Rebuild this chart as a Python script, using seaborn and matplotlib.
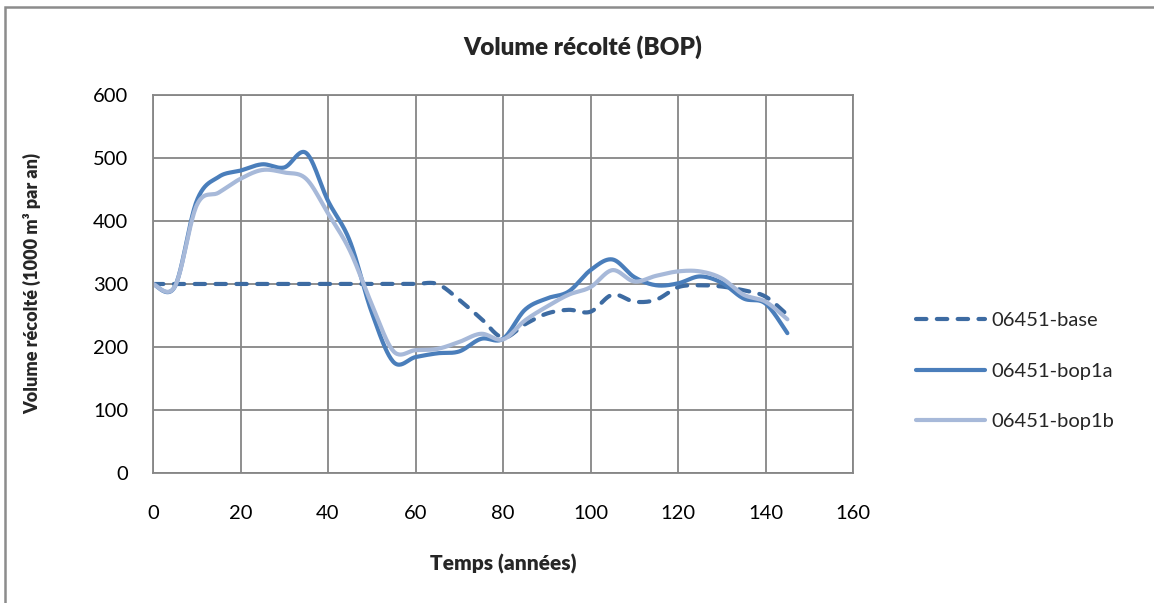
import numpy as np
import pandas as pd
import matplotlib
matplotlib.use("Agg")
import matplotlib.pyplot as plt
import seaborn as sns

# Harvested volume per scenario (1000 m3 per year), every 5 years
years = list(range(0, 150, 5))
base = [300, 300, 300, 300, 300, 300, 300, 300, 300, 300,
        300, 300, 300, 300, 275, 245, 215, 236, 253, 259,
        256, 283, 272, 275, 295, 298, 296, 290, 280, 251]
bop1a = [300, 296, 432, 470, 480, 490, 485, 508, 432, 368,
         255, 176, 184, 190, 193, 213, 213, 259, 277, 288,
         322, 339, 311, 298, 301, 312, 302, 277, 269, 222]
bop1b = [300, 296, 425, 445, 467, 481, 477, 467, 412, 353,
         268, 193, 195, 197, 208, 221, 212, 242, 264, 283,
         295, 322, 304, 313, 320, 320, 309, 283, 272, 244]

series_names = ["06451-base", "06451-bop1a", "06451-bop1b"]
series_values = [base, bop1a, bop1b]
colors = ["#3D6BA2", "#4A7EBB", "#A7B9D9"]

x_ticks = [0, 20, 40, 60, 80, 100, 120, 140, 160]
y_ticks = [0, 100, 200, 300, 400, 500, 600]


def smooth(x, y, n=24):
    """Smoothed line through every point (cubic Bezier, Catmull-Rom tangents)."""
    x = np.asarray(x, float)
    y = np.asarray(y, float)
    px = np.concatenate([[x[0]], x, [x[-1]]])
    py = np.concatenate([[y[0]], y, [y[-1]]])
    xs, ys = [], []
    t = np.linspace(0, 1, n, endpoint=False)
    for i in range(1, len(px) - 2):
        p0x, p1x, p2x, p3x = px[i - 1:i + 3]
        p0y, p1y, p2y, p3y = py[i - 1:i + 3]
        c1x, c1y = p1x + (p2x - p0x) / 6, p1y + (p2y - p0y) / 6
        c2x, c2y = p2x - (p3x - p1x) / 6, p2y - (p3y - p1y) / 6
        bx = (1 - t) ** 3 * p1x + 3 * (1 - t) ** 2 * t * c1x + 3 * (1 - t) * t ** 2 * c2x + t ** 3 * p2x
        by = (1 - t) ** 3 * p1y + 3 * (1 - t) ** 2 * t * c1y + 3 * (1 - t) * t ** 2 * c2y + t ** 3 * p2y
        xs.extend(bx)
        ys.extend(by)
    xs.append(x[-1])
    ys.append(y[-1])
    return np.array(xs), np.array(ys)


frames = []
for name, vals in zip(series_names, series_values):
    sx, sy = smooth(years, vals)
    frames.append(pd.DataFrame({"t": sx, "v": sy, "serie": name}))
df = pd.concat(frames, ignore_index=True)

sns.set_theme(style="white")
plt.rcParams["font.family"] = ["Lato", "DejaVu Sans"]

fig = plt.figure(figsize=(11.54, 6.03), dpi=100)
ax = fig.add_axes([153 / 1154, 1 - 473 / 603, 700 / 1154, 378 / 603])

sns.lineplot(data=df, x="t", y="v", hue="serie", style="serie",
             hue_order=series_names, style_order=series_names,
             palette=colors, dashes={series_names[0]: (2.5, 2.5),
                                     series_names[1]: "",
                                     series_names[2]: ""},
             sort=False, estimator=None, linewidth=3.0, ax=ax, legend=False)

for line, name in zip(ax.get_lines(), series_names):
    line.set_solid_capstyle("round")
    line.set_dash_capstyle("round")
    line.set_solid_joinstyle("round")
    line.set_label(name)

ax.set_xlim(0, 160)
ax.set_ylim(0, 600)
ax.set_xticks(x_ticks)
ax.set_yticks(y_ticks)
ax.grid(True, color="#868686", linewidth=1.3)
ax.set_axisbelow(True)
for s in ax.spines.values():
    s.set_color("#868686")
    s.set_linewidth(1.3)
ax.tick_params(axis="both", length=0, labelsize=14.5, colors="black")
ax.tick_params(axis="x", pad=23)
ax.tick_params(axis="y", pad=18)

ax.set_xlabel("Temps (années)", fontsize=15, fontweight="heavy", labelpad=23)
ax.set_ylabel("Volume récolté (1000 m³ par an)", fontsize=13, fontweight="heavy", labelpad=37)
fig.text(583 / 1154, 1 - 47 / 603, "Volume récolté (BOP)", ha="center", va="center",
         fontsize=17.5, fontweight="heavy")

handles = ax.get_lines()[:3]
leg = fig.legend(handles=handles, labels=series_names, loc="center left",
                 bbox_to_anchor=(898 / 1154, 1 - 371 / 603), frameon=False,
                 fontsize=14.5, handlelength=3.4, handletextpad=0.35, labelspacing=1.65)

# outer chart border
fig.patches.append(plt.Rectangle((5 / 1154, -0.1), 1.2, 1 - 7 / 603 + 0.1,
                                 transform=fig.transFigure, fill=False,
                                 edgecolor="#8c8c8c", linewidth=1.8))

fig.savefig("out.png", dpi=100)
